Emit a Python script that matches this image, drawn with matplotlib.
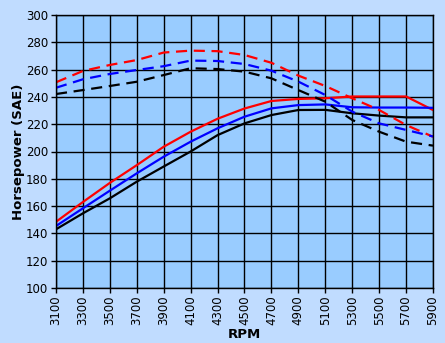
import matplotlib
matplotlib.use("Agg")
import matplotlib.pyplot as plt

rpm = [3100, 3300, 3500, 3700, 3900, 4100, 4300, 4500, 4700, 4900, 5100, 5300, 5500, 5700, 5900]

red_solid = [148.5, 163, 177, 190, 203.5, 214.5, 224, 231.5, 237, 238.5, 239, 240.3, 240.3, 240.3, 230.4]
blue_solid = [145.4, 158.4, 171.3, 184, 196.2, 207.2, 217, 225.5, 231.6, 234, 234.5, 232.4, 232.2, 232.2, 232]
black_solid = [143, 154.7, 165.7, 177.9, 189, 200, 212, 220.6, 226.7, 230.4, 230.5, 228, 226.3, 225, 225]

red_dashed = [250.7, 259, 263.4, 267, 272.5, 273.9, 273.5, 270.7, 265, 255.6, 248, 239, 230.4, 219.4, 210.8]
blue_dashed = [246.7, 252.9, 256.8, 259.7, 262.5, 266.6, 266.3, 264.1, 259.2, 251.2, 241.4, 229.2, 220.6, 215.8, 211]
black_dashed = [242.1, 245, 248, 251.1, 256, 261, 260.4, 258.5, 253.6, 245, 236.5, 223.1, 214.5, 207.2, 204.3]

yticks = [100, 120, 140, 160, 180, 200, 220, 240, 260, 280, 300]

fig = plt.figure(figsize=(4.45, 3.43), dpi=100)
fig.patch.set_facecolor("#C0DCFF")
ax = fig.add_axes([56/445, 1-288/343, (433-56)/445, (288-15)/343])
ax.set_facecolor("#99CCFF")

lw = 1.6
ax.plot(rpm, red_solid, color="#FF0000", lw=lw)
ax.plot(rpm, blue_solid, color="#0000FF", lw=lw)
ax.plot(rpm, black_solid, color="#000000", lw=lw)
dash = (0, (5, 3))
ax.plot(rpm, red_dashed, color="#FF0000", lw=lw, linestyle=dash)
ax.plot(rpm, blue_dashed, color="#0000FF", lw=lw, linestyle=dash)
ax.plot(rpm, black_dashed, color="#000000", lw=lw, linestyle=dash)

ax.set_xlim(3100, 5900)
ax.set_ylim(100, 300)
ax.set_xticks(rpm)
ax.set_xticklabels([str(r) for r in rpm], rotation=90, fontsize=8.5)
ax.set_yticks(yticks)
ax.set_yticklabels([str(v) for v in yticks], fontsize=8.5)
ax.grid(True, color="black", lw=1.0)
ax.set_axisbelow(True)
for s in ax.spines.values():
    s.set_linewidth(1.0)
ax.tick_params(length=3.5, width=1.0, pad=2)
ax.set_xlabel("RPM", fontsize=9.5, fontweight="bold", labelpad=2)
ax.set_ylabel("Horsepower (SAE)", fontsize=9.5, fontweight="bold", labelpad=1)

fig.savefig("out.png", dpi=100, facecolor=fig.get_facecolor())
